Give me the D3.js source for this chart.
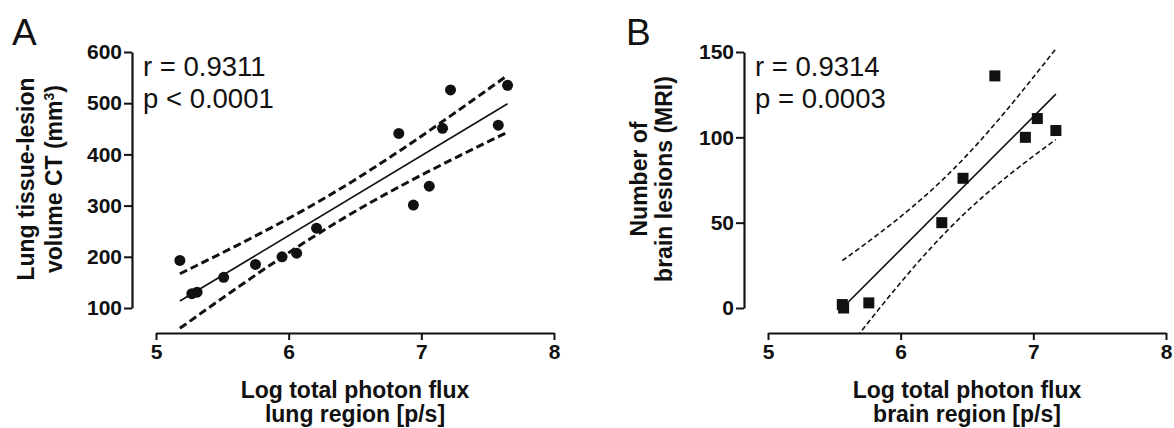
<!DOCTYPE html>
<html>
<head>
<meta charset="utf-8">
<script src="https://cdn.jsdelivr.net/npm/d3@7"></script>
<style>
  body { margin: 0; background: #fff; }
  svg text { font-family: "Liberation Sans", Arial, sans-serif; fill: #111; }
  .tick text { font-weight: bold; font-size: 21px; }
  .ttl { font-weight: bold; font-size: 23px; }
</style>
</head>
<body>
<div id="chart"></div>
<script>
// Panel A: lung
var lungFlux = [5.18, 5.27, 5.31, 5.51, 5.75, 5.95, 6.06, 6.21, 6.83, 6.94, 7.06, 7.16, 7.22, 7.58, 7.65];
var lungVolume = [193, 128, 131, 160, 185, 200, 207, 256, 441, 301, 338, 451, 526, 457, 535];
// Panel B: brain
var brainFlux = [5.56, 5.57, 5.76, 6.31, 6.47, 6.71, 6.94, 7.03, 7.17];
var brainLesions = [2, 0, 3, 50, 76, 136, 100, 111, 104];

var xTicks = [5, 6, 7, 8];
var lungYTicks = [100, 200, 300, 400, 500, 600];
var brainYTicks = [0, 50, 100, 150];

var svgWidth = 1174;
var svgHeight = 428;

var svg = d3.select("#chart")
  .append("svg")
  .attr("width", svgWidth)
  .attr("height", svgHeight);

// two-tailed t critical for 95% CI
function tCrit(df) {
  var table = {7: 2.365, 13: 2.160};
  return table[df] || 2.0;
}

// linear fit plus confidence band of the line
function fitLine(xs, ys) {
  var n = xs.length;
  var mx = d3.mean(xs), my = d3.mean(ys);
  var sxx = d3.sum(xs, x => (x - mx) * (x - mx));
  var sxy = d3.sum(xs, (x, i) => (x - mx) * (ys[i] - my));
  var slope = sxy / sxx;
  var icpt = my - slope * mx;
  var sse = d3.sum(xs, (x, i) => Math.pow(ys[i] - (icpt + slope * x), 2));
  var s = Math.sqrt(sse / (n - 2));
  var t = tCrit(n - 2);
  var band = function (x) {
    return t * s * Math.sqrt(1 / n + (x - mx) * (x - mx) / sxx);
  };
  return { slope: slope, icpt: icpt, band: band };
}

function drawPanel(cfg) {
  var g = svg.append("g");

  var x = d3.scaleLinear().domain([5, 8]).range(cfg.xRange);
  var y = d3.scaleLinear().domain(cfg.yDomain).range([308, 52]);

  // y axis
  var yAxis = g.append("g")
    .attr("transform", `translate(${cfg.yAxisX},0)`)
    .call(d3.axisLeft(y).tickValues(cfg.yTicks).tickSize(8).tickPadding(2).tickSizeOuter(0));
  yAxis.attr("font-size", null);
  yAxis.select(".domain").attr("stroke-width", 2.2).attr("stroke", "#111");
  yAxis.selectAll(".tick line").attr("stroke-width", 2).attr("stroke", "#111");

  // x axis
  var xAxis = g.append("g")
    .attr("transform", "translate(0,333)")
    .call(d3.axisBottom(x).tickValues(xTicks).tickFormat(d3.format("d")).tickSize(7).tickPadding(4).tickSizeOuter(0));
  xAxis.attr("font-size", null);
  xAxis.select(".domain").attr("stroke-width", 2.2).attr("stroke", "#111");
  xAxis.selectAll(".tick line").attr("stroke-width", 2).attr("stroke", "#111");

  // fit and confidence band
  var fit = fitLine(cfg.xs, cfg.ys);
  var x0 = d3.min(cfg.xs), x1 = d3.max(cfg.xs);
  var grid = d3.range(0, 41).map(i => x0 + (x1 - x0) * i / 40);

  var clipId = "clip" + cfg.name;
  svg.append("clipPath").attr("id", clipId)
    .append("rect").attr("x", 0).attr("y", 0).attr("width", svgWidth).attr("height", 333);

  var line = d3.line().x(d => x(d[0])).y(d => y(d[1]));

  g.append("path")
    .attr("d", line([[x0, fit.icpt + fit.slope * x0], [x1, fit.icpt + fit.slope * x1]]))
    .attr("fill", "none")
    .attr("stroke", "#111")
    .attr("stroke-width", 1.6);

  [1, -1].forEach(function (sign) {
    g.append("path")
      .attr("clip-path", `url(#${clipId})`)
      .attr("d", line(grid.map(v => [v, fit.icpt + fit.slope * v + sign * fit.band(v)])))
      .attr("fill", "none")
      .attr("stroke", "#111")
      .attr("stroke-width", cfg.dashWidth)
      .attr("stroke-dasharray", cfg.dash);
  });

  // points
  if (cfg.marker === "circle") {
    g.selectAll("circle.pt")
      .data(cfg.xs)
      .enter()
      .append("circle")
      .attr("cx", d => x(d))
      .attr("cy", (d, i) => y(cfg.ys[i]))
      .attr("r", 5.5)
      .attr("fill", "#111");
  } else {
    g.selectAll("rect.pt")
      .data(cfg.xs)
      .enter()
      .append("rect")
      .attr("x", d => x(d) - 5.5)
      .attr("y", (d, i) => y(cfg.ys[i]) - 5.5)
      .attr("width", 11)
      .attr("height", 11)
      .attr("fill", "#111");
  }

  // panel letter
  g.append("text")
    .attr("x", cfg.letterX)
    .attr("y", 45)
    .style("font-size", "37px")
    .text(cfg.letter);

  // stats
  g.append("text")
    .attr("x", cfg.yAxisX + 11)
    .attr("y", 76)
    .style("font-size", "27.5px")
    .text(cfg.rText);
  g.append("text")
    .attr("x", cfg.yAxisX + 11)
    .attr("y", 108)
    .style("font-size", "27.5px")
    .text(cfg.pText);

  // y title, two rotated lines
  cfg.yTitle.forEach(function (s, i) {
    var t = g.append("text")
      .attr("class", "ttl")
      .attr("text-anchor", "middle")
      .attr("transform", `translate(${cfg.yTitleX[i]},179) rotate(-90)`);
    s.forEach(function (part) {
      var p = t.append("tspan").text(part.t);
      if (part.sup) p.attr("dy", -8).style("font-size", "14px");
      if (part.after) p.attr("dy", 8);
    });
  });

  // x title
  var xMid = (cfg.xRange[0] + cfg.xRange[1]) / 2;
  g.append("text").attr("class", "ttl").attr("text-anchor", "middle")
    .attr("x", xMid).attr("y", 398).text(cfg.xTitle[0]);
  g.append("text").attr("class", "ttl").attr("text-anchor", "middle")
    .attr("x", xMid).attr("y", 422).text(cfg.xTitle[1]);
}

drawPanel({
  name: "A",
  xs: lungFlux, ys: lungVolume,
  xRange: [156, 554], yDomain: [100, 600], yTicks: lungYTicks,
  yAxisX: 132, marker: "circle",
  dash: "8,4", dashWidth: 3,
  letter: "A", letterX: 12,
  rText: "r = 0.9311", pText: "p < 0.0001",
  yTitleX: [34, 62],
  yTitle: [[{t: "Lung tissue-lesion"}], [{t: "volume CT (mm"}, {t: "3", sup: true}, {t: ")", after: true}]],
  xTitle: ["Log total photon flux", "lung region [p/s]"]
});

drawPanel({
  name: "B",
  xs: brainFlux, ys: brainLesions,
  xRange: [768, 1166], yDomain: [0, 150], yTicks: brainYTicks,
  yAxisX: 744, marker: "square",
  dash: "5,3", dashWidth: 1.6,
  letter: "B", letterX: 626,
  rText: "r = 0.9314", pText: "p = 0.0003",
  yTitleX: [647, 672],
  yTitle: [[{t: "Number of"}], [{t: "brain lesions (MRI)"}]],
  xTitle: ["Log total photon flux", "brain region [p/s]"]
});
</script>
</body>
</html>
